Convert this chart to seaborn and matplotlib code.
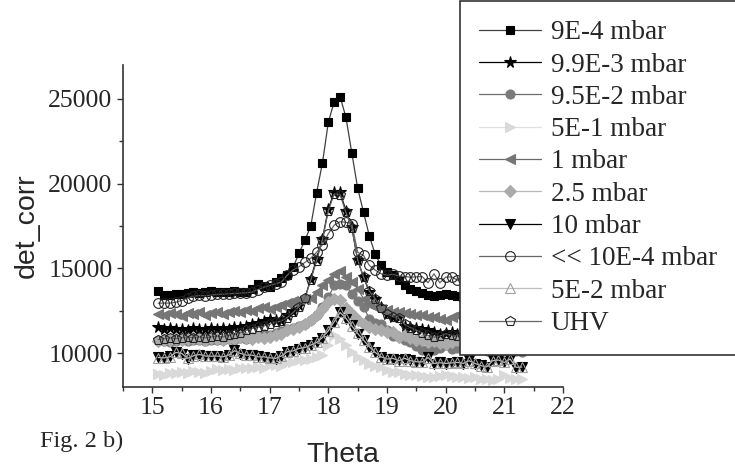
import matplotlib
matplotlib.use("Agg")
import matplotlib.pyplot as plt
from matplotlib.ticker import MultipleLocator
import seaborn as sns

# ---------------- data ----------------
theta = [15.1, 15.2, 15.3, 15.4, 15.5, 15.6, 15.7, 15.8, 15.9, 16.0,
         16.1, 16.2, 16.3, 16.4, 16.5, 16.6, 16.7, 16.8, 16.9, 17.0,
         17.1, 17.2, 17.3, 17.4, 17.5, 17.6, 17.7, 17.8, 17.9, 18.0,
         18.1, 18.2, 18.3, 18.4, 18.5, 18.6, 18.7, 18.8, 18.9, 19.0,
         19.1, 19.2, 19.3, 19.4, 19.5, 19.6, 19.7, 19.8, 19.9, 20.0,
         20.1, 20.2, 20.3, 20.4, 20.5, 20.6, 20.7, 20.8, 20.9, 21.0,
         21.1, 21.2, 21.3]

p_9e4 = [13640, 13400, 13450, 13500, 13480, 13550, 13600, 13550, 13600, 13640,
         13580, 13600, 13580, 13650, 13600, 13620, 13800, 14090, 13950, 13890,
         14190, 14430, 14590, 15060, 15890, 16650, 17490, 19460, 21230, 23620,
         24840, 25135, 23915, 21815, 19730, 18310, 16900, 15820, 15170, 14780,
         14580, 14290, 13990, 13800, 13650, 13540, 13400, 13350, 13450, 13500,
         13420, 13360, 13300, 13280, 13250, 13300, 13220, 13200, 13180, 13150,
         13200, 13120, 13100]

p_99e3 = [11530, 11450, 11480, 11400, 11450, 11380, 11480, 11420, 11400, 11500,
          11450, 11500, 11450, 11520, 11550, 11600, 11700, 11800, 11900, 12030,
          11930, 11980, 12220, 12500, 12810, 13210, 14390, 15570, 16750, 18510,
          19490, 19490, 18410, 17430, 15470, 14480, 13600, 13210, 12700, 12320,
          12120, 12120, 11570, 11530, 11470, 11440, 11340, 11240, 11140, 11180,
          11240, 11140, 11100, 11150, 11050, 11100, 11000, 11050, 11000, 10950,
          11000, 10950, 10900]

p_95e2 = [10750, 10700, 10650, 10700, 10750, 10700, 10800, 10750, 10700, 10800,
          10750, 10800, 10850, 10800, 10900, 10850, 10950, 11000, 11100, 11050,
          11200, 11300, 11400, 11500, 11600, 11700, 11930, 12220, 12700, 13300,
          13990, 14050, 13990, 13500, 13100, 12710, 12030, 11800, 11730, 11340,
          11000, 10940, 10750, 10650, 10400, 10160, 10200, 10160, 10300, 10450,
          10260, 10300, 10250, 10300, 10200, 10250, 10150, 10200, 10150, 10100,
          10150, 10100, 10050]

p_5e1 = [8790, 8700, 8850, 8800, 8900, 8850, 8950, 8900, 8850, 8950,
         9050, 9000, 9080, 9000, 9100, 9150, 9100, 9200, 9150, 9275,
         9300, 9250, 9400, 9500, 9570, 9600, 9650, 9760, 9900, 10500,
         11040, 10850, 10450, 10060, 9760, 9570, 9375, 9250, 9175, 8980,
         8900, 8880, 8785, 8700, 8690, 8650, 8600, 8585, 8650, 8690,
         8650, 8600, 8585, 8550, 8600, 8500, 8490, 8390, 8450, 8690,
         8550, 8500, 8490]

p_1 = [12320, 12250, 12350, 12300, 12200, 12350, 12300, 12400, 12250, 12350,
       12450, 12300, 12400, 12500, 12400, 12550, 12500, 12650, 12700, 12620,
       12750, 12810, 12950, 13050, 13150, 13200, 13250, 13600, 14000, 14300,
       14680, 14830, 14480, 14190, 13800, 13210, 12910, 12750, 12620, 12520,
       12450, 12420, 12350, 12320, 12250, 12220, 12150, 12120, 12000, 11930,
       12120, 12220, 12100, 12050, 12150, 12000, 12050, 11950, 12000, 11900,
       11950, 11850, 11900]

p_25 = [10700, 10800, 10750, 10850, 10800, 10850, 10900, 10850, 10800, 10900,
        10850, 10800, 10900, 10850, 10950, 10900, 10850, 10940, 10900, 10950,
        11040, 11150, 11340, 11450, 11530, 11700, 11930, 12220, 12620, 13000,
        13210, 13110, 12680, 12320, 11930, 11700, 11530, 11400, 11340, 11240,
        11240, 10940, 11040, 10900, 10750, 10800, 10650, 10700, 10600, 10550,
        10650, 10750, 10600, 10550, 10650, 10500, 10600, 10550, 10500, 10550,
        10450, 10500, 10450]

p_10 = [9760, 9700, 9800, 10060, 9960, 9670, 9860, 9900, 9850, 9800,
        9850, 9760, 9900, 10160, 9960, 9900, 9860, 9800, 9760, 9700,
        9670, 9850, 10060, 10150, 10260, 10350, 10450, 10650, 10900, 11340,
        11830, 12420, 12030, 11630, 11140, 10790, 10350, 10060, 9760, 9670,
        9670, 9570, 9670, 9570, 9470, 9500, 9760, 9370, 9450, 9375,
        9400, 9470, 9375, 9570, 9375, 9275, 9175, 9570, 9570, 9470,
        9670, 9140, 9200]

p_lt = [12950, 12950, 12950, 13000, 13100, 13250, 13350, 13400, 13380, 13420,
        13460, 13480, 13500, 13520, 13540, 13560, 13600, 13750, 13890, 13990,
        14090, 14190, 14600, 14900, 15100, 15350, 15600, 15950, 16400, 17050,
        17550, 17750, 17720, 17630, 15950, 15760, 15170, 14900, 14680, 14600,
        14650, 14550, 14520, 14480, 14500, 14520, 14150, 14680, 14150, 14480,
        14500, 14300, 14400, 14350, 14450, 14300, 14400, 14350, 14300, 14400,
        14250, 14350, 14300]

p_5e2 = [9740, 9720, 9780, 10040, 9980, 9690, 9840, 9920, 9830, 9820,
         9830, 9780, 9880, 10140, 9980, 9880, 9880, 9780, 9780, 9720,
         9690, 9830, 10080, 10130, 10280, 10330, 10470, 10630, 10920, 11320,
         11850, 12400, 12050, 11610, 11160, 10770, 10370, 10040, 9780, 9650,
         9690, 9550, 9690, 9550, 9490, 9480, 9740, 9390, 9430, 9390,
         9420, 9450, 9390, 9550, 9390, 9260, 9190, 9550, 9590, 9450,
         9650, 9160, 9180]

p_uhv = [10800, 10850, 10900, 10850, 10900, 10950, 10900, 10950, 10900, 10950,
         11000, 10950, 11050, 11100, 11200, 11340, 11450, 11530, 11600, 11700,
         11830, 11900, 12100, 12400, 12750, 13250, 14300, 15450, 16700, 18400,
         19400, 19350, 18300, 17400, 15500, 14500, 13650, 13200, 12650, 12300,
         12150, 12050, 11700, 11500, 11350, 11200, 11040, 10940, 11000, 11140,
         11040, 11000, 10950, 11000, 10900, 10950, 10850, 10900, 10850, 10800,
         10850, 10800, 10750]

labels = ["9E-4 mbar", "9.9E-3 mbar", "9.5E-2 mbar", "5E-1 mbar", "1 mbar",
          "2.5 mbar", "10 mbar", "<< 10E-4 mbar", "5E-2 mbar", "UHV"]
xticks = [15, 16, 17, 18, 19, 20, 21, 22]
yticks = [10000, 15000, 20000, 25000]

# ---------------- style ----------------
sns.set_style("ticks")
plt.rcParams['font.family'] = ['Liberation Serif', 'DejaVu Serif']

fig = plt.figure(figsize=(7.35, 4.70), dpi=100)
ax = fig.add_axes([123 / 735, 83 / 470, 440 / 735, 322 / 470])

series = [p_9e4, p_99e3, p_95e2, p_5e1, p_1, p_25, p_10, p_lt, p_5e2, p_uhv]
looks = [
    dict(color='#404040', marker='s', mfc='black', mec='black', ms=5.8),
    dict(color='#000000', marker='*', mfc='black', mec='black', ms=8.5),
    dict(color='#6e6e6e', marker='o', mfc='#7a7a7a', mec='#7a7a7a', ms=6.5),
    dict(color='#e0e0e0', marker='>', mfc='#d9d9d9', mec='#d9d9d9', ms=7.5),
    dict(color='#6a6a6a', marker='<', mfc='#767676', mec='#767676', ms=7.5),
    dict(color='#b8b8b8', marker='D', mfc='#ababab', mec='#ababab', ms=5.8),
    dict(color='#000000', marker='v', mfc='black', mec='black', ms=7.0),
    dict(color='#666666', marker='o', mfc='none', mec='#222222', ms=7.0),
    dict(color='#bdbdbd', marker='^', mfc='none', mec='#a0a0a0', ms=7.0),
    dict(color='#666666', marker='p', mfc='none', mec='#222222', ms=7.5),
]

for vals, lab, lk in zip(series, labels, looks):
    sns.lineplot(x=theta, y=vals, ax=ax, color=lk['color'], linewidth=0.9,
                 marker=lk['marker'], markersize=lk['ms'],
                 markerfacecolor=lk['mfc'], markeredgecolor=lk['mec'],
                 markeredgewidth=0.8, label=lab, legend=False)

ax.set_xlim(14.5, 22)
ax.set_ylim(8000, 27000)
ax.set_xticks(xticks)
ax.set_yticks(yticks)
ax.xaxis.set_minor_locator(MultipleLocator(0.5))
ax.yaxis.set_minor_locator(MultipleLocator(2500))
ax.tick_params(which='both', direction='out', width=1.0, color='#333333',
               labelsize=18.5, pad=3)
ax.tick_params(which='major', length=4.5)
ax.tick_params(which='minor', length=3.0)
sns.despine(ax=ax)
for side in ('left', 'bottom'):
    ax.spines[side].set_color('#333333')
    ax.spines[side].set_linewidth(1.2)

ax.set_xlabel('Theta', family='Liberation Sans', fontsize=20.5)
ax.set_ylabel('det_corr', family='Liberation Sans', fontsize=20.5)
ax.xaxis.set_label_coords(0.5, -0.17)
ax.yaxis.set_label_coords(-0.19, 0.5)

leg = ax.legend(loc='lower left', bbox_to_anchor=(460 / 735, 115 / 470),
                bbox_transform=fig.transFigure, frameon=True, fancybox=False,
                framealpha=1, edgecolor='#333333',
                prop={'family': 'Liberation Serif', 'size': 19.5},
                handlelength=2.3, handletextpad=0.35, borderpad=0.7,
                labelspacing=0.27, borderaxespad=0)
leg.get_frame().set_linewidth(1.2)

fig.text(40 / 735, 1 - 447 / 470, 'Fig. 2 b)', family='Liberation Serif',
         fontsize=17.5, ha='left', va='baseline')

fig.savefig('out.png', dpi=100)
